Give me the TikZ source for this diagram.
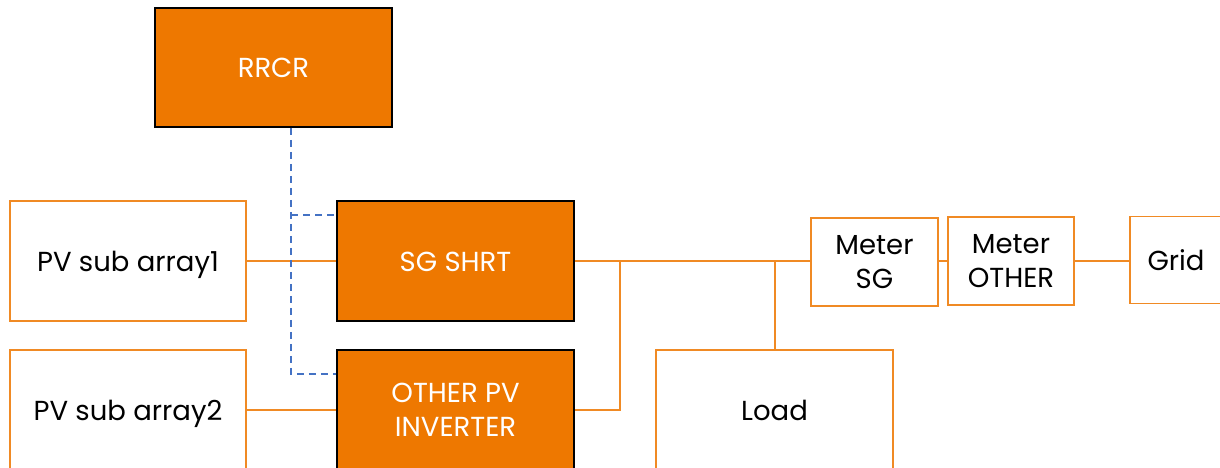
\documentclass[tikz,border=0pt]{standalone}
\usepackage{fontspec}
\setmainfont{Poppins}
\definecolor{orfill}{HTML}{EE7800}
\definecolor{orline}{HTML}{F08A24}
\definecolor{dblue}{HTML}{4472C4}
\begin{document}
\begin{tikzpicture}[x=1pt,y=-1pt,
  every node/.style={font=\fontsize{27.5}{34}\selectfont, align=center, inner sep=0pt},
  oneline/.style={text height=20pt, text depth=0pt},
  filledbox/.style={rectangle, draw=black, line width=1.5pt, fill=orfill, text=white},
  plainbox/.style={rectangle, draw=orline, line width=1.5pt, fill=white, text=black},
  wire/.style={draw=orline, line width=2.2pt},
  ctrl/.style={draw=dblue, line width=2.2pt, dash pattern=on 7pt off 5pt}]
\useasboundingbox (0,0) rectangle (1220,468);
\clip (0,0) rectangle (1220,468);
\node[filledbox, oneline, minimum width=237pt, minimum height=119pt] (rrcr) at (273.5,67.5) {RRCR};
\node[plainbox, oneline, minimum width=236pt, minimum height=120pt] (pv1) at (128,261) {PV sub array1};
\node[filledbox, oneline, minimum width=237pt, minimum height=120pt] (sg) at (455.5,261) {SG SHRT};
\node[plainbox, oneline, minimum width=236pt, minimum height=120pt] (pv2) at (128,410) {PV sub array2};
\node[filledbox, minimum width=237pt, minimum height=120pt] (oth) at (455.5,410) {OTHER PV\\INVERTER};
\node[plainbox, oneline, minimum width=237pt, minimum height=120pt] (load) at (774.5,410) {Load};
\node[plainbox, minimum width=127pt, minimum height=88pt] (msg) at (874.5,262) {Meter\\SG};
\node[plainbox, minimum width=126pt, minimum height=88pt] (mot) at (1011,261) {Meter\\OTHER};
\node[plainbox, oneline, minimum width=92pt, minimum height=87pt] (grid) at (1176,260) {Grid};
\coordinate (j1) at (620,261);
\coordinate (j2) at (775,261);
\coordinate (b1) at (291,215);
\coordinate (b2) at (291,374);
\draw[wire] (pv1.east) -- (sg.west);
\draw[wire] (pv2.east) -- (oth.west);
\draw[wire] (sg.east) -- (j1) -- (j2) -- (j2 -| msg.west);
\draw[wire] (j1) |- (oth.east);
\draw[wire] (j2) -- (load.north -| j2);
\draw[wire] (mot.west -| msg.east) -- (mot.west);
\draw[wire] (mot.east) -- (mot.east -| grid.west);
\draw[ctrl] (rrcr.south -| b1) -- (b2) -- (oth.west |- b2);
\draw[ctrl] (b1) -- (sg.west |- b1);
\end{tikzpicture}
\end{document}
